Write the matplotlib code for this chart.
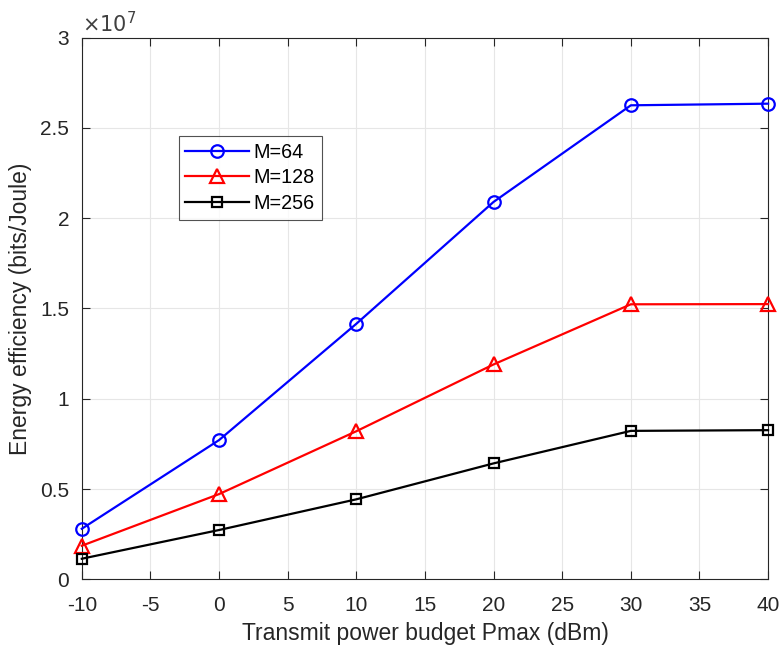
import numpy as np
import matplotlib
matplotlib.use('Agg')
import matplotlib.pyplot as plt

plt.rcParams['font.family'] = ['Liberation Sans', 'DejaVu Sans']
plt.rcParams['axes.unicode_minus'] = False

# Datos
pmax = [-10, 0, 10, 20, 30, 40]
ee_m64 = [0.28, 0.771, 1.415, 2.09, 2.625, 2.634]
ee_m128 = [0.186, 0.472, 0.82, 1.19, 1.523, 1.524]
ee_m256 = [0.114, 0.273, 0.443, 0.642, 0.822, 0.826]
labels = ['M=64', 'M=128', 'M=256']

fig = plt.figure(figsize=(7.79, 6.48), dpi=100)
ax = fig.add_axes([0.105, 0.106, 0.881, 0.836])

ax.plot(pmax, ee_m64, color='#0000ff', lw=1.6, marker='o', ms=9, mfc='none', mew=1.6,
        label=labels[0], clip_on=False, zorder=3)
ax.plot(pmax, ee_m128, color='#ff0000', lw=1.6, marker='^', ms=10, mfc='none', mew=1.6,
        label=labels[1], clip_on=False, zorder=3)
ax.plot(pmax, ee_m256, color='#000000', lw=1.6, marker='s', ms=6.5, mfc='none', mew=1.6,
        label=labels[2], clip_on=False, zorder=3)

ax.set_xlim(-10, 40)
ax.set_ylim(0, 3)
ax.set_xticks(np.arange(-10, 41, 5))
ax.set_yticks([0, 0.5, 1, 1.5, 2, 2.5, 3])
ax.set_yticklabels(['0', '0.5', '1', '1.5', '2', '2.5', '3'])
ax.grid(True, color='#e6e6e6', lw=0.8)
ax.set_axisbelow(True)
for s in ax.spines.values():
    s.set_color('#262626')
    s.set_linewidth(0.8)
ax.tick_params(direction='in', length=6, labelsize=15, colors='#262626', top=True, right=True)
ax.tick_params(axis='x', pad=12)
ax.tick_params(axis='y', pad=9)
ax.tick_params(labeltop=False, labelright=False)

ax.set_xlabel('Transmit power budget Pmax (dBm)', fontsize=16.5, color='#262626', labelpad=5)
ax.set_ylabel('Energy efficiency (bits/Joule)', fontsize=16.5, color='#262626', labelpad=6)
ax.text(0.0, 1.003, r'$\times10^{7}$', transform=ax.transAxes, fontsize=15, color='#404040',
        ha='left', va='bottom', math_fontfamily='dejavusans')

leg = ax.legend(loc='upper left', bbox_to_anchor=(0.141, 0.818), fontsize=14.2, frameon=True,
                fancybox=False, edgecolor='#262626', handlelength=3.2, borderpad=0.35,
                labelspacing=0.32, handletextpad=0.25, borderaxespad=0)
leg.get_frame().set_linewidth(0.8)

fig.savefig('out.png', dpi=100)
